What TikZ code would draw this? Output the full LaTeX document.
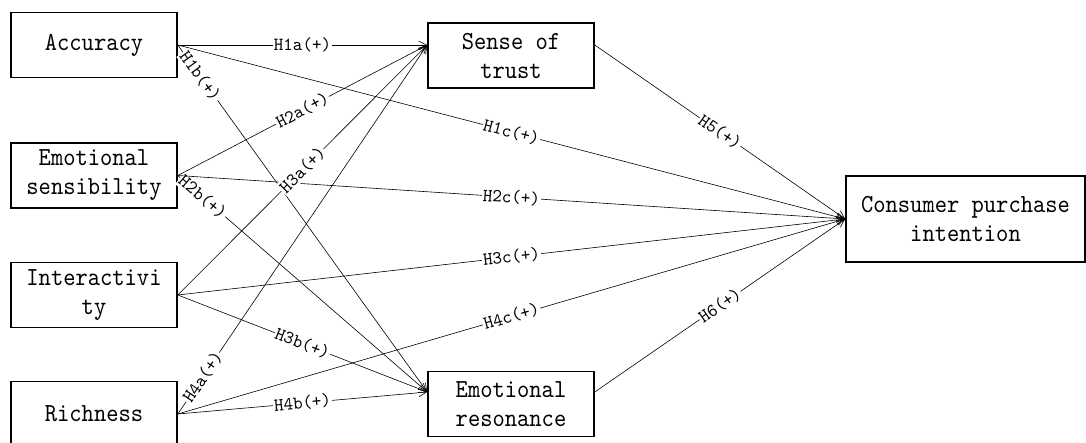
\documentclass[tikz,border=0pt]{standalone}
\usepackage{fontspec}
\usetikzlibrary{arrows.meta,calc}
\newfontfamily\boxfont[FakeStretch=0.9]{lmmono10-regular.otf}
\newfontfamily\labfont[FakeStretch=0.98]{lmmono10-regular.otf}
\begin{document}
\begin{tikzpicture}[x=1pt,y=-1pt,
  box/.style={draw,line width=1.6pt,minimum width=166pt,minimum height=65pt,inner sep=0pt,align=center,font=\boxfont\fontsize{26}{29}\selectfont},
  conn/.style={line width=0.6pt,-{Straight Barb[length=8pt,width=8pt]}},
  lab/.style={fill=white,inner sep=1pt,sloped,font=\labfont\fontsize{18.5}{19}\selectfont}]
\useasboundingbox (0,0) rectangle (1086,443);
\node[box] (acc) at (94,45) {Accuracy};
\node[box] (emo) at (94,175.5) {Emotional\\sensibility};
\node[box] (int) at (94,295) {Interactivi\\ty};
\node[box] (ric) at (94,414) {Richness};
\node[box] (tru) at (511,55.5) {Sense of\\trust};
\node[box] (res) at (511,404) {Emotional\\resonance};
\node[box,minimum width=239pt,minimum height=86pt] (cpi) at (965.5,219) {Consumer purchase\\intention};
\coordinate (truIn) at ([yshift=10.5pt]tru.west);
\coordinate (truOut) at ([yshift=10.5pt]tru.east);
\coordinate (resIn) at ([yshift=12pt]res.west);
\coordinate (resOut) at ([yshift=12pt]res.east);
\draw[conn] (acc.east) -- node[lab] {H1a(+)} (truIn);
\draw[conn] (acc.east) -- node[lab,pos=0.09] {H1b(+)} (resIn);
\draw[conn] (acc.east) -- node[lab] {H1c(+)} (cpi.west);
\draw[conn] (emo.east) -- node[lab] {H2a(+)} (truIn);
\draw[conn] (emo.east) -- node[lab,pos=0.1] {H2b(+)} (resIn);
\draw[conn] (emo.east) -- node[lab] {H2c(+)} (cpi.west);
\draw[conn] (int.east) -- node[lab] {H3a(+)} (truIn);
\draw[conn] (int.east) -- node[lab] {H3b(+)} (resIn);
\draw[conn] (int.east) -- node[lab] {H3c(+)} (cpi.west);
\draw[conn] (ric.east) -- node[lab,pos=0.1] {H4a(+)} (truIn);
\draw[conn] (ric.east) -- node[lab] {H4b(+)} (resIn);
\draw[conn] (ric.east) -- node[lab] {H4c(+)} (cpi.west);
\draw[conn] (truOut) -- node[lab] {H5(+)} (cpi.west);
\draw[conn] (resOut) -- node[lab] {H6(+)} (cpi.west);
\end{tikzpicture}
\end{document}
